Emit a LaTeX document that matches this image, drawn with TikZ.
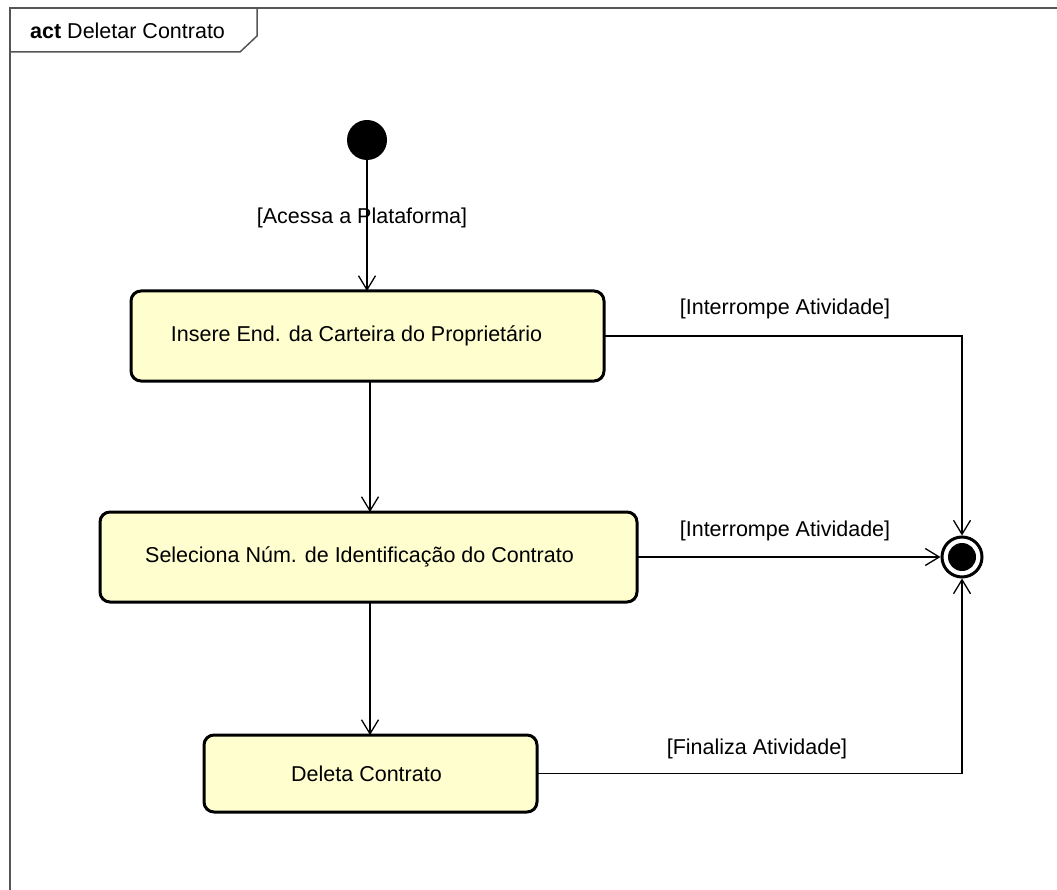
\documentclass[tikz,border=0pt]{standalone}
\usepackage{fontspec}
\setmainfont{Liberation Sans}
\usetikzlibrary{arrows.meta}
\definecolor{actfill}{HTML}{FEFECE}
\definecolor{framegray}{HTML}{555555}
\newcommand{\umlfont}{\fontsize{21.5}{24}\selectfont}
\tikzset{
  activity/.style={draw=black, line width=3pt, fill=actfill, rounded corners=10pt,
    anchor=north west, inner sep=0pt, outer sep=0pt},
  actlabel/.style={font=\umlfont, inner sep=0pt},
  flow/.style={draw=black, line width=1.3pt, -{Straight Barb[length=14pt,width=17pt,line width=1.3pt]}},
  guard/.style={font=\umlfont, inner sep=0pt},
}
\begin{document}
\begin{tikzpicture}[x=1pt,y=-1pt]
\useasboundingbox (0,0) rectangle (1057,890);
% frame and name tab
\draw[framegray, line width=1.5pt] (1057,8) -- (10,8) -- (10,890);
\draw[framegray, line width=1.5pt] (10,52) -- (240,52) -- (257,36) -- (257,8);
\node[anchor=west, inner sep=0pt, font=\umlfont] (tab) at (30,31) {\textbf{act} Deletar Contrato};

% initial and final nodes
\node[circle, fill=black, minimum size=40pt, inner sep=0pt] (start) at (367,140) {};
\node[circle, draw=black, line width=3pt, fill=white, minimum size=40pt, inner sep=0pt] (final) at (962,557) {};
\node[circle, fill=black, minimum size=28pt, inner sep=0pt] (finaldot) at (final) {};

% activities
\node[activity, minimum width=473pt, minimum height=90pt] (a1) at (131,291) {};
\node[actlabel] (t1) at ([xshift=-11pt]a1.center) {Insere End. da Carteira do Proprietário};
\node[activity, minimum width=537pt, minimum height=90pt] (a2) at (100,512) {};
\node[actlabel] (t2) at ([xshift=-9pt]a2.center) {Seleciona Núm. de Identificação do Contrato};
\node[activity, minimum width=333pt, minimum height=77pt] (a3) at (204,735) {};
\node[actlabel] (t3) at ([xshift=-4pt]a3.center) {Deleta Contrato};

% control flows
\draw[flow] (start) -- (start |- a1.north);
\draw[flow] (a1.south -| 370,0) -- (370,512);
\draw[flow] (a2.south -| 370,0) -- (370,735);
\draw[flow] (a1.east) -| (final.north);
\draw[flow] (a2.east) -- (final.west);
\draw[flow] (a3.east) -| (final.south);

% guards
\node[guard] (g0) at (362,218) {[Acessa a Plataforma]};
\node[guard] (g1) at (785,309) {[Interrompe Atividade]};
\node[guard] (g2) at (785,531) {[Interrompe Atividade]};
\node[guard] (g3) at (757,749) {[Finaliza Atividade]};
\end{tikzpicture}
\end{document}
